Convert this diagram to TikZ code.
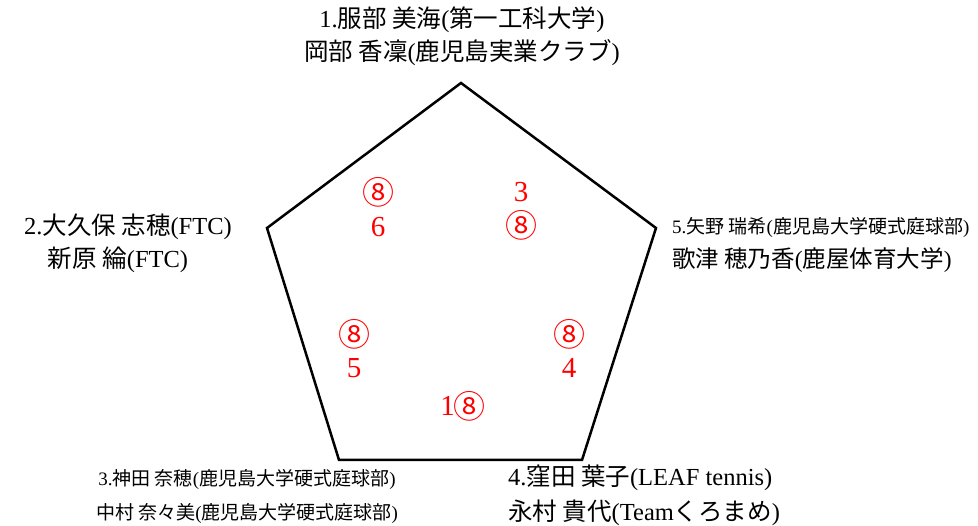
\documentclass[tikz,border=0pt]{standalone}
\usepackage{fontspec}
\setmainfont{Liberation Serif}
\newfontfamily\cjk{Noto Sans CJK JP}
\newcommand\jp[1]{{\cjk #1}}
\begin{document}
\begin{tikzpicture}[x=1pt,y=-1pt,
  lbl/.style={inner sep=0, font=\fontsize{24.5}{28}\selectfont},
  slbl/.style={inner sep=0, font=\fontsize{19}{22}\selectfont},
  num/.style={inner sep=0, text=red, font=\fontsize{29}{34}\selectfont},
  circ/.style={inner sep=0, text=red, font=\cjk\fontsize{32}{36}\selectfont},
  edge/.style={line width=2.5pt, line join=miter}]
\useasboundingbox (0,0) rectangle (978,526);
\coordinate (v1) at (461,83);
\coordinate (v2) at (267,228);
\coordinate (v3) at (339,460);
\coordinate (v4) at (582,460);
\coordinate (v5) at (656,228);
\draw[edge] (v1)--(v5)--(v4)--(v3)--(v2)--cycle;
% labels
\node[lbl] (t1) at (462,20) {1.\jp{服部 美海}(\jp{第一工科大学})};
\node[lbl] (t2) at (462,53) {\jp{岡部 香凜}(\jp{鹿児島実業クラブ})};
\node[lbl] (l1) at (128,227) {2.\jp{大久保 志穂}(FTC)};
\node[lbl] (l2) at (118,260) {\jp{新原 綸}(FTC)};
\node[slbl,anchor=west] (r1) at (672,227) {5.\jp{矢野 瑞希}(\jp{鹿児島大学硬式庭球部})};
\node[lbl,anchor=west,font=\fontsize{23.5}{27}\selectfont] (r2) at (672,260) {\jp{歌津 穂乃香}(\jp{鹿屋体育大学})};
\node[slbl] (b1) at (247,479) {3.\jp{神田 奈穂}(\jp{鹿児島大学硬式庭球部})};
\node[slbl] (b2) at (247,513) {\jp{中村 奈々美}(\jp{鹿児島大学硬式庭球部})};
\node[lbl,anchor=west] (c1) at (508,478) {4.\jp{窪田 葉子}(LEAF tennis)};
\node[lbl,anchor=west] (c2) at (508,513) {\jp{永村 貴代}(Team\jp{くろまめ})};
% scores
\node[circ] (s1) at (378,192) {⑧};
\node[num] (s2) at (378,227) {6};
\node[num] (s3) at (521,192) {3};
\node[circ] (s4) at (521,225) {⑧};
\node[circ] (s5) at (354,334) {⑧};
\node[num] (s6) at (354,368) {5};
\node[circ] (s7) at (569,334) {⑧};
\node[num] (s8) at (569,368) {4};
\node[num,anchor=east] (s9) at (455,406) {1};
\node[circ,anchor=west] (s10) at (453,406) {⑧};
\end{tikzpicture}
\end{document}
